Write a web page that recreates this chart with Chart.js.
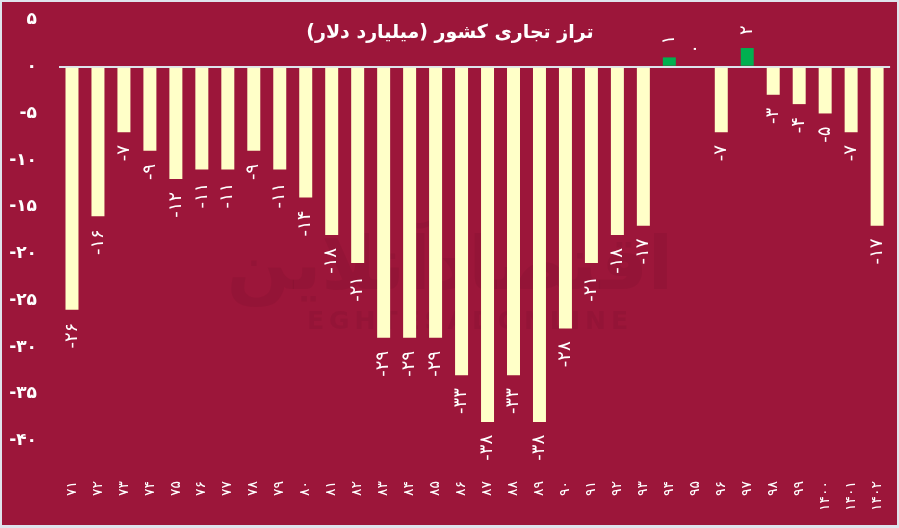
<!DOCTYPE html>
<html>
<head>
<meta charset="utf-8">
<script src="https://cdn.jsdelivr.net/npm/chart.js@4.4.0/dist/chart.umd.min.js"></script>
<style>
    html, body { margin: 0; padding: 0; background: #dfe4ec; }
    #wrap { position: absolute; left: 2px; top: 2px; width: 895px; height: 523px; background: #9c163a; }
</style>
</head>
<body>
<div id="wrap"><canvas id="myChart"></canvas></div>
<script>
// سال ها و تراز تجاری (میلیارد دلار)
var years = ['71', '72', '73', '74', '75', '76', '77', '78', '79', '80', '81', '82', '83', '84', '85', '86',
    '87', '88', '89', '90', '91', '92', '93', '94', '95', '96', '97', '98', '99', '1400', '1401', '1402'];
var balance = [-26, -16, -7, -9, -12, -11, -11, -9, -11, -14, -18, -21, -29, -29, -29, -33,
    -38, -33, -38, -28, -21, -18, -17, 1, 0, -7, 2, -3, -4, -5, -7, -17];
var yTicks = [5, 0, -5, -10, -15, -20, -25, -30, -35, -40];

var chartTitle = 'تراز تجاری کشور (میلیارد دلار)';

function fa(v) {
    var s = String(v);
    return s.replace(/[0-9]/g, function (d) { return '۰۱۲۳۴۵۶۷۸۹'[d]; });
}

var FONT = '"DejaVu Sans", sans-serif';

// عنوان و واترمارک
var backdrop = {
    id: 'backdrop',
    beforeDatasetsDraw: function (chart) {
        var ctx = chart.ctx;
        ctx.save();
        ctx.fillStyle = 'rgba(60, 0, 20, 0.08)';
        ctx.textAlign = 'center';
        ctx.textBaseline = 'middle';
        ctx.font = 'bold 74px ' + FONT;
        ctx.fillText('اقتصادآنلاین', 448, 268);
        ctx.font = 'bold 25px ' + FONT;
        ctx.letterSpacing = '5px';
        ctx.fillText('EGHTESADONLINE', 468, 320);
        ctx.restore();
    },
    afterDraw: function (chart) {
        var ctx = chart.ctx;
        ctx.save();
        ctx.fillStyle = '#ffffff';
        ctx.textAlign = 'center';
        ctx.textBaseline = 'middle';
        ctx.direction = 'rtl';
        ctx.font = 'bold 19px ' + FONT;
        ctx.fillText(chartTitle, 448, 31);
        ctx.restore();
    }
};

// برچسب مقادیر عمودی
var barLabels = {
    id: 'barLabels',
    afterDatasetsDraw: function (chart) {
        var ctx = chart.ctx;
        var meta = chart.getDatasetMeta(0);
        ctx.save();
        ctx.fillStyle = '#ffffff';
        ctx.font = '18px ' + FONT;
        ctx.textBaseline = 'middle';
        meta.data.forEach(function (bar, i) {
            var v = balance[i];
            ctx.save();
            if (v < 0) {
                ctx.translate(bar.x, bar.y + 13);
                ctx.rotate(-Math.PI / 2);
                ctx.textAlign = 'right';
            } else {
                ctx.translate(bar.x, bar.y - 13);
                ctx.rotate(-Math.PI / 2);
                ctx.textAlign = 'left';
            }
            ctx.fillText(fa(v), 0, 0);
            ctx.restore();
        });
        ctx.restore();
    }
};

var ctx = document.getElementById('myChart').getContext('2d');
var myChart = new Chart(ctx, {
    type: 'bar',
    data: {
        labels: years.map(fa),
        datasets: [{
            data: balance,
            backgroundColor: balance.map(function (v) { return v > 0 ? '#00b050' : '#ffffc8'; }),
            borderWidth: 0,
            barPercentage: 0.5,
            categoryPercentage: 1
        }]
    },
    options: {
        responsive: true,
        maintainAspectRatio: false,
        animation: false,
        layout: { padding: { top: 18, right: 6, bottom: 0, left: 5 } },
        plugins: {
            legend: { display: false },
            tooltip: { enabled: false }
        },
        scales: {
            x: {
                afterFit: function (axis) {
                    axis.height = 47;
                },
                grid: { display: false, drawTicks: false },
                border: { display: false },
                ticks: {
                    color: '#ffffff',
                    font: { family: FONT, size: 14 },
                    minRotation: 90,
                    maxRotation: 90,
                    autoSkip: false,
                    padding: 3
                }
            },
            y: {
                min: -44,
                max: 5,
                afterBuildTicks: function (axis) {
                    axis.ticks = yTicks.map(function (v) { return { value: v }; });
                },
                afterFit: function (axis) {
                    axis.width = 52;
                    axis.paddingTop = 0;
                    axis.paddingBottom = 0;
                },
                grid: {
                    drawTicks: false,
                    lineWidth: 2,
                    color: function (c) { return c.tick && c.tick.value === 0 ? '#dde3ec' : 'rgba(0,0,0,0)'; }
                },
                border: { display: false },
                ticks: {
                    color: '#ffffff',
                    font: { family: FONT, size: 17, weight: 'bold' },
                    padding: 22,
                    callback: function (v) { return fa(v); }
                }
            }
        }
    },
    plugins: [backdrop, barLabels]
});
</script>
</body>
</html>
